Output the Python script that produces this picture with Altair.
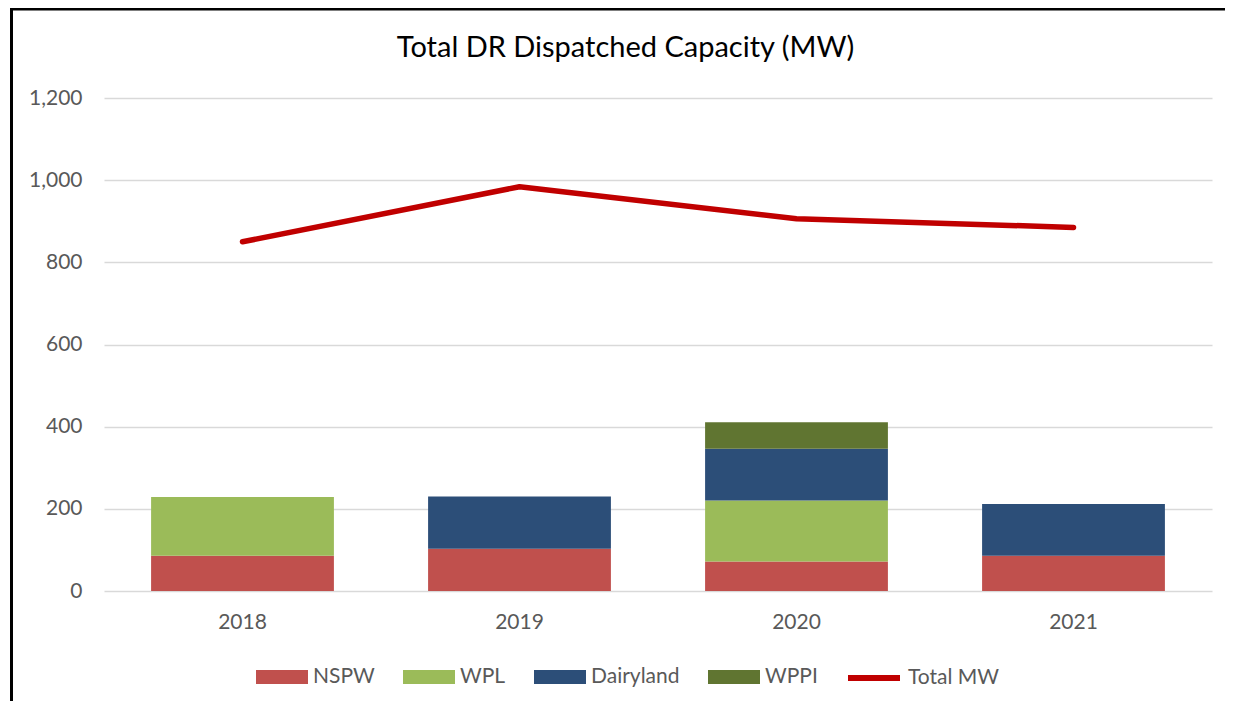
import altair as alt
import pandas as pd

years = ["2018", "2019", "2020", "2021"]
series_names = ["NSPW", "WPL", "Dairyland", "WPPI"]
nspw = [86, 103, 72, 86]
wpl = [143, 0, 148, 0]
dairyland = [0, 127, 126, 126]
wppi = [0, 0, 65, 0]
total_mw = [850, 984, 906, 885]
series_colors = ["#c0504d", "#9bbb59", "#2c4e78", "#607531"]
line_color = "#c00000"
title_text = "Total DR Dispatched Capacity (MW)"

rows = []
for idx, (name, vals) in enumerate(zip(series_names, [nspw, wpl, dairyland, wppi])):
    for y, v in zip(years, vals):
        if v > 0:
            rows.append({"year": y, "series": name, "value": v, "order": idx})
bars_df = pd.DataFrame(rows)
line_df = pd.DataFrame({"year": years, "total": total_mw, "label": ["Total MW"] * 4})

FONT = "Lato"
rect_path = "M-1,-0.27H1V0.27H-1Z"

x_enc = alt.X(
    "year:N",
    sort=years,
    scale=alt.Scale(paddingInner=0.34, paddingOuter=0.17),
    axis=alt.Axis(title=None, labelAngle=0, labelPadding=20, labelFontSize=21,
                  labelColor="#595959", labelFont=FONT, domain=False, ticks=False, grid=False),
)

bars = alt.Chart(bars_df).mark_bar().encode(
    x=x_enc,
    y=alt.Y(
        "value:Q",
        stack="zero",
        scale=alt.Scale(domain=[0, 1200]),
        axis=alt.Axis(title=None, values=[0, 200, 400, 600, 800, 1000, 1200], format=",.0f",
                      labelPadding=22, labelFontSize=21, labelColor="#595959", labelFont=FONT,
                      domain=False, ticks=False, grid=True, gridColor="#d9d9d9", gridWidth=1.5),
    ),
    color=alt.Color(
        "series:N",
        scale=alt.Scale(domain=series_names, range=series_colors),
        legend=alt.Legend(
            title=None, orient="none", direction="horizontal", legendX=152, legendY=553,
            symbolType=rect_path, symbolSize=2704, symbolStrokeWidth=0, symbolOpacity=1,
            labelFontSize=21, labelColor="#595959", labelFont=FONT, labelOffset=5,
            columnPadding=28, padding=0,
        ),
    ),
    order=alt.Order("order:Q", sort="ascending"),
)

line = alt.Chart(line_df).mark_line(strokeWidth=5.5, strokeCap="round", strokeJoin="round").encode(
    x=alt.X("year:N", sort=years),
    y=alt.Y("total:Q"),
    stroke=alt.Stroke(
        "label:N",
        scale=alt.Scale(domain=["Total MW"], range=[line_color]),
        legend=alt.Legend(
            title=None, orient="none", direction="horizontal", legendX=741, legendY=551,
            symbolType="stroke", symbolSize=2704, symbolStrokeWidth=6,
            labelFontSize=21, labelColor="#595959", labelFont=FONT, labelOffset=5, padding=0,
        ),
    ),
)

one = pd.DataFrame({"a": [0]})
title_mark = alt.Chart(one).mark_text(
    font=FONT, fontSize=29, color="#000000", align="center", baseline="alphabetic"
).encode(x=alt.value(521.5), y=alt.value(-41), text=alt.value(title_text))

frame_left = alt.Chart(one).mark_rule(color="black", strokeWidth=3).encode(
    x=alt.value(-92.5), y=alt.value(-95), y2=alt.value(620)
)
frame_top = alt.Chart(one).mark_rule(color="black", strokeWidth=3).encode(
    x=alt.value(-94), x2=alt.value(1140), y=alt.value(-89)
)

chart = alt.layer(bars, line, title_mark, frame_left, frame_top).properties(
    width=1108,
    height=493,
    autosize=alt.AutoSizeParams(type="none"),
    padding={"left": 96, "top": 90, "right": 13, "bottom": 110},
).configure(background="white").configure_view(stroke=None, strokeWidth=0)

chart.save("out.html", embed_options={"renderer": "svg", "actions": False})
